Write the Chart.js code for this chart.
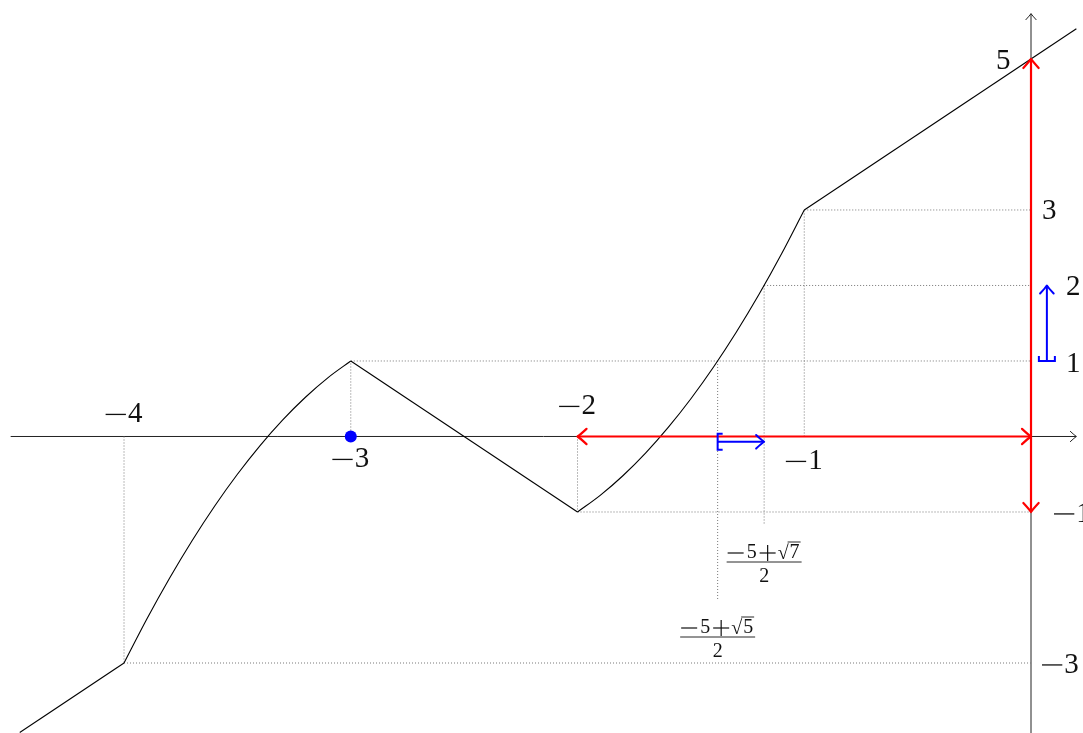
<!DOCTYPE html>
<html>
<head>
<meta charset="utf-8">
<script src="https://cdn.jsdelivr.net/npm/chart.js@4"></script>
<style>
body { margin: 0; background: #fff; }
</style>
</head>
<body>
<canvas id="c" width="1083" height="733"></canvas>
<script>
// graph of f, piece by piece
const rayLeftX = [-4.46, -4];
const rayLeftY = [-3.92, -3];
const arc1X = [-4, -3.9, -3.8, -3.7, -3.6, -3.5, -3.4, -3.3, -3.2, -3.1, -3];
const arc1Y = [-3, -2.42, -1.88, -1.38, -0.92, -0.5, -0.12, 0.22, 0.52, 0.78, 1];
const segMidX = [-3, -2];
const segMidY = [1, -1];
const arc2X = [-2, -1.9, -1.8, -1.7, -1.6, -1.5, -1.4, -1.3, -1.2, -1.1, -1];
const arc2Y = [-1, -0.78, -0.52, -0.22, 0.12, 0.5, 0.92, 1.38, 1.88, 2.42, 3];
const rayRightX = [-1, 0.2];
const rayRightY = [3, 5.4];

// dotted helper lines [x1, y1, x2, y2]
const guides = [
  [-4, 0, -4, -3], [-4, -3, 0, -3],
  [-3, 0, -3, 1], [-3, 1, 0, 1],
  [-2, 0, -2, -1], [-2, -1, 0, -1],
  [-1, 0, -1, 3], [-1, 3, 0, 3],
  [-1.177, 2, -1.177, -1.17], [-1.177, 2, 0, 2],
  [-1.382, 1, -1.382, -2.17]
];

// tick labels
const xTickVals = [-4, -3, -2, -1];
const xTickText = ['−4', '−3', '−2', '−1'];
const yTickVals = [5, 3, 2, 1, -1, -3];
const yTickText = ['5', '3', '2', '1', '−1', '−3'];

// highlighted intervals
const redX = [-2, 0];      // on the x axis
const redY = [-1, 5];      // on the y axis
const blueX = [-1.382, -1.177];
const blueY = [1, 2];
const bluePoint = [-3, 0];
const radicands = ['5', '7'];

const SERIF = '"Liberation Serif", "DejaVu Serif", serif';

const pts = (xs, ys) => xs.map((x, i) => ({ x: x, y: ys[i] }));

const guideSets = guides.map(g => ({
  data: [{ x: g[0], y: g[1] }, { x: g[2], y: g[3] }],
  showLine: true, borderColor: '#777', borderWidth: 1, borderDash: [1, 2],
  pointRadius: 0
}));

const fnStyle = { showLine: true, borderColor: '#000', borderWidth: 1.1, pointRadius: 0 };

// number with a TeX-like wide minus; align: 'left' | 'center'
function mathNum(ctx, str, x, y, size, align) {
  ctx.font = size + 'px ' + SERIF;
  ctx.textAlign = 'left';
  ctx.textBaseline = 'alphabetic';
  const neg = str[0] === '−';
  const digits = neg ? str.slice(1) : str;
  const mw = neg ? size * 0.7 : 0;
  const gap = neg ? size * 0.07 : 0;
  const w = mw + gap + ctx.measureText(digits).width;
  let x0 = align === 'center' ? x - w / 2 : x;
  if (neg) {
    ctx.fillRect(x0, y - size * 0.28 - 0.6, mw, 1.3);
  }
  ctx.fillText(digits, x0 + mw + gap, y);
}

const extras = {
  id: 'extras',
  beforeDatasetsDraw(chart) {
    const ctx = chart.ctx;
    const px = v => chart.scales.x.getPixelForValue(v);
    const py = v => chart.scales.y.getPixelForValue(v);
    ctx.save();
    ctx.strokeStyle = '#222';
    ctx.lineWidth = 1;
    ctx.beginPath();
    ctx.moveTo(px(-4.5), py(0)); ctx.lineTo(px(0.2), py(0));
    ctx.moveTo(px(0), py(-4)); ctx.lineTo(px(0), py(5.6));
    ctx.stroke();
    arrowHead(ctx, px(0.2), py(0), 0, 6, '#222', 1);
    arrowHead(ctx, px(0), py(5.6), -Math.PI / 2, 6, '#222', 1);
    ctx.restore();
  },
  afterDatasetsDraw(chart) {
    const ctx = chart.ctx;
    const px = v => chart.scales.x.getPixelForValue(v);
    const py = v => chart.scales.y.getPixelForValue(v);
    ctx.save();
    // red arrow heads
    arrowHead(ctx, px(redX[0]), py(0), Math.PI, 9, '#f00', 2.2);
    arrowHead(ctx, px(redX[1]), py(0), 0, 9, '#f00', 2.2);
    arrowHead(ctx, px(0), py(redY[0]), Math.PI / 2, 9, '#f00', 2.2);
    arrowHead(ctx, px(0), py(redY[1]), -Math.PI / 2, 9, '#f00', 2.2);
    // blue brackets and arrow heads
    ctx.strokeStyle = '#00f';
    ctx.lineWidth = 2;
    const by = py(-0.07);
    ctx.beginPath();
    ctx.moveTo(px(blueX[0]) + 5, by - 8);
    ctx.lineTo(px(blueX[0]), by - 8);
    ctx.lineTo(px(blueX[0]), by + 8);
    ctx.lineTo(px(blueX[0]) + 5, by + 8);
    ctx.stroke();
    arrowHead(ctx, px(blueX[1]), by, 0, 8, '#00f', 2);
    const bx = px(0.07);
    ctx.beginPath();
    ctx.moveTo(bx - 8, py(blueY[0]) - 5);
    ctx.lineTo(bx - 8, py(blueY[0]));
    ctx.lineTo(bx + 8, py(blueY[0]));
    ctx.lineTo(bx + 8, py(blueY[0]) - 5);
    ctx.stroke();
    arrowHead(ctx, bx, py(blueY[1]), -Math.PI / 2, 8, '#00f', 2);

    // tick labels
    ctx.fillStyle = '#111';
    const xOff = { '-4': -14, '-3': 31, '-2': -22, '-1': 33 };
    xTickVals.forEach((v, i) => {
      mathNum(ctx, xTickText[i], px(v), py(0) + xOff[v], 29, 'center');
    });
    const yPos = { '5': [-35, 10], '3': [11, 9], '2': [35, 10], '1': [35, 11], '-1': [23, 10], '-3': [11, 10] };
    yTickVals.forEach((v, i) => {
      const o = yPos[v];
      mathNum(ctx, yTickText[i], px(0) + o[0], py(v) + o[1], 29, 'left');
    });

    // fraction labels under the blue interval
    fraction(ctx, px(blueX[1]), 562, radicands[1]);
    fraction(ctx, px(blueX[0]), 637, radicands[0]);
    ctx.restore();
  }
};

function arrowHead(ctx, x, y, ang, size, color, width) {
  ctx.save();
  ctx.translate(x, y);
  ctx.rotate(ang);
  ctx.strokeStyle = color;
  ctx.lineWidth = width;
  ctx.lineCap = 'round';
  ctx.lineJoin = 'round';
  ctx.beginPath();
  ctx.moveTo(-size, -size * 0.85);
  ctx.quadraticCurveTo(-size * 0.3, -size * 0.2, 0, 0);
  ctx.quadraticCurveTo(-size * 0.3, size * 0.2, -size, size * 0.85);
  ctx.stroke();
  ctx.restore();
}

// (-5 + sqrt(r)) / 2, laid out like the TeX original
function fraction(ctx, cx, barY, rad) {
  const size = 20;
  ctx.font = size + 'px ' + SERIF;
  ctx.textAlign = 'left';
  ctx.textBaseline = 'alphabetic';
  ctx.fillStyle = '#111';
  ctx.strokeStyle = '#111';
  const base = barY - 4;
  const axis = base - 5;
  const w5 = ctx.measureText('5').width;
  const wS = ctx.measureText('√').width;
  const wr = ctx.measureText(rad).width;
  const mw = 16, pw = 16;
  const w = mw + 3 + w5 + 3 + pw + 2 + wS + wr + 2;
  const x0 = cx - w / 2;
  let x = x0;
  ctx.fillRect(x, axis - 0.6, mw, 1.2);
  x += mw + 3;
  ctx.fillText('5', x, base);
  x += w5 + 3;
  ctx.fillRect(x, axis - 0.6, pw, 1.2);
  ctx.fillRect(x + pw / 2 - 0.6, axis - pw / 2, 1.2, pw);
  x += pw + 2;
  ctx.fillText('√', x, base + 1);
  x += wS;
  ctx.fillText(rad, x + 1, base);
  ctx.lineWidth = 0.9;
  ctx.beginPath();
  ctx.moveTo(x - 1, base - 16);
  ctx.lineTo(x + wr + 2, base - 16);
  ctx.moveTo(x0 - 1, barY);
  ctx.lineTo(x0 + w + 1, barY);
  ctx.stroke();
  ctx.textAlign = 'center';
  ctx.fillText('2', cx, barY + 20);
}

function draw() {
  new Chart(document.getElementById('c'), {
    type: 'scatter',
    data: {
      datasets: [
        { data: [{ x: bluePoint[0], y: bluePoint[1] }], pointRadius: 6, pointBackgroundColor: '#00f', pointBorderWidth: 0 },
        { data: pts(blueX, [-0.07, -0.07]), showLine: true, borderColor: '#00f', borderWidth: 2, pointRadius: 0 },
        { data: pts([0.07, 0.07], blueY), showLine: true, borderColor: '#00f', borderWidth: 2, pointRadius: 0 },
        { data: pts(redX, [0, 0]), showLine: true, borderColor: '#f00', borderWidth: 2.2, pointRadius: 0 },
        { data: pts([0, 0], redY), showLine: true, borderColor: '#f00', borderWidth: 2.2, pointRadius: 0 },
        Object.assign({ data: pts(rayLeftX, rayLeftY) }, fnStyle),
        Object.assign({ data: pts(arc1X, arc1Y), cubicInterpolationMode: 'monotone' }, fnStyle),
        Object.assign({ data: pts(segMidX, segMidY) }, fnStyle),
        Object.assign({ data: pts(arc2X, arc2Y), cubicInterpolationMode: 'monotone' }, fnStyle),
        Object.assign({ data: pts(rayRightX, rayRightY) }, fnStyle),
        ...guideSets
      ]
    },
    options: {
      responsive: false,
      animation: false,
      devicePixelRatio: 1,
      layout: { padding: 0, autoPadding: false },
      plugins: { legend: { display: false }, tooltip: { enabled: false } },
      scales: {
        x: { type: 'linear', min: -4.547, max: 0.2293, display: false },
        y: { type: 'linear', min: -3.927, max: 5.781, display: false }
      }
    },
    plugins: [extras]
  });
}

Promise.all([
  document.fonts.load('29px "Liberation Serif"'),
  document.fonts.load('20px "Liberation Serif"')
]).then(draw, draw);
</script>
</body>
</html>
